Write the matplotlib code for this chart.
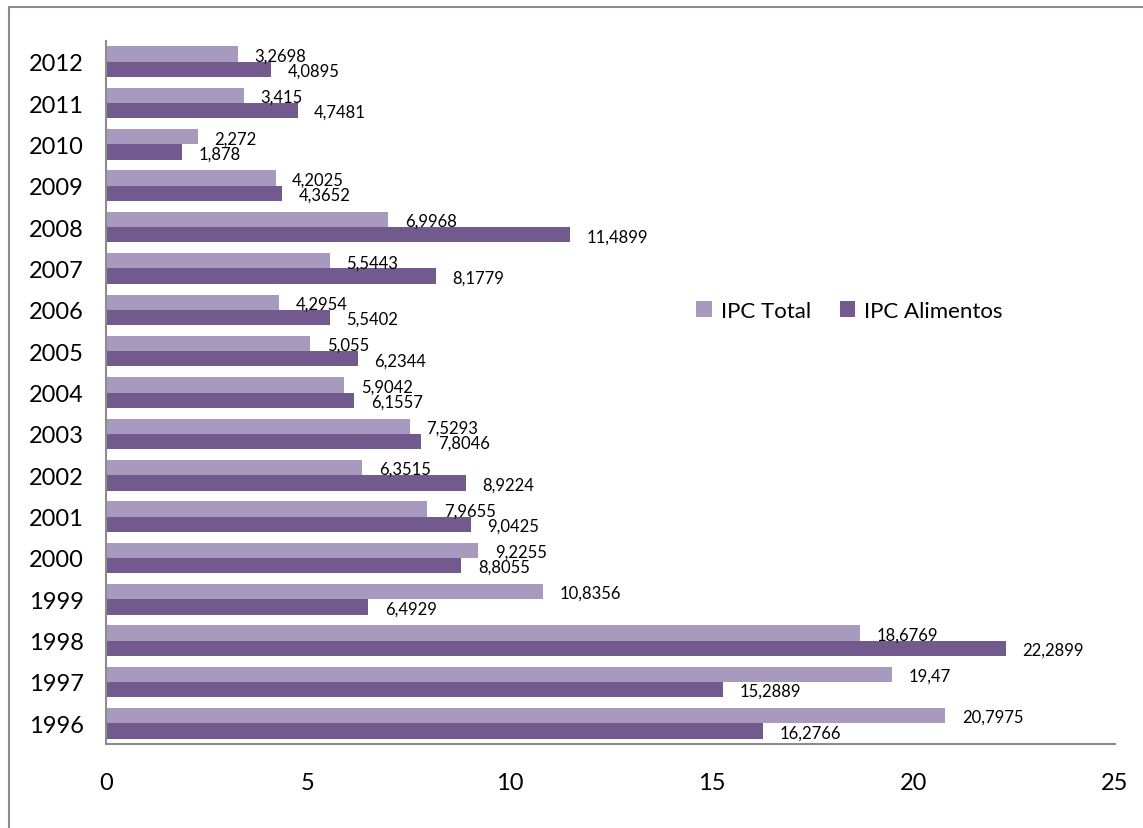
import numpy as np
from matplotlib import pyplot as plt
from matplotlib.patches import Rectangle

years = ["1996", "1997", "1998", "1999", "2000", "2001", "2002", "2003", "2004",
         "2005", "2006", "2007", "2008", "2009", "2010", "2011", "2012"]
ipc_total = [20.7975, 19.47, 18.6769, 10.8356, 9.2255, 7.9655, 6.3515, 7.5293, 5.9042,
             5.055, 4.2954, 5.5443, 6.9968, 4.2025, 2.272, 3.415, 3.2698]
ipc_alimentos = [16.2766, 15.2889, 22.2899, 6.4929, 8.8055, 9.0425, 8.9224, 7.8046, 6.1557,
                 6.2344, 5.5402, 8.1779, 11.4899, 4.3652, 1.878, 4.7481, 4.0895]
labels_total = ["20,7975", "19,47", "18,6769", "10,8356", "9,2255", "7,9655", "6,3515", "7,5293", "5,9042",
                "5,055", "4,2954", "5,5443", "6,9968", "4,2025", "2,272", "3,415", "3,2698"]
labels_alimentos = ["16,2766", "15,2889", "22,2899", "6,4929", "8,8055", "9,0425", "8,9224", "7,8046", "6,1557",
                    "6,2344", "5,5402", "8,1779", "11,4899", "4,3652", "1,878", "4,7481", "4,0895"]

c_total = "#a89abe"
c_alim = "#725a8e"

plt.rcParams['font.family'] = ['Lato', 'DejaVu Sans']

fig = plt.figure(figsize=(11.43, 8.29), dpi=100)
ax = fig.add_axes([0.0927, 0.1013, 0.8828, 0.848])

y = np.arange(len(years))
h = 0.37
ax.barh(y + h / 2, ipc_total, height=h, color=c_total, label="IPC Total")
ax.barh(y - h / 2, ipc_alimentos, height=h, color=c_alim, label="IPC Alimentos")

for yi, v, s in zip(y, ipc_total, labels_total):
    ax.annotate(s, (v, yi + h / 2), xytext=(12, -1), textcoords="offset points",
                va="center", ha="left", fontsize=12)
for yi, v, s in zip(y, ipc_alimentos, labels_alimentos):
    ax.annotate(s, (v, yi - h / 2), xytext=(12, -1), textcoords="offset points",
                va="center", ha="left", fontsize=12)

ax.set_xlim(0, 25)
ax.set_ylim(-0.5, len(years) - 0.5)
ax.set_xticks([0, 5, 10, 15, 20, 25])
ax.set_yticks(y)
ax.set_yticklabels(years)
ax.tick_params(axis="both", length=0, labelsize=17)
ax.tick_params(axis="x", pad=20)
ax.tick_params(axis="y", pad=16)
for side in ["top", "right"]:
    ax.spines[side].set_visible(False)
for side in ["left", "bottom"]:
    ax.spines[side].set_color("#8c8c8c")
    ax.spines[side].set_linewidth(1.5)

ax.legend(loc="center left", bbox_to_anchor=(0.565, 0.616), ncol=2, frameon=False,
          fontsize=16, handlelength=0.7, handleheight=0.7, handletextpad=0.4,
          columnspacing=1.3)

# outer chart frame
fig.patches.append(Rectangle((9 / 1143, -0.1), 1.2, 1 - 8 / 829 + 0.1,
                             transform=fig.transFigure, fill=False,
                             edgecolor="#8c8c8c", linewidth=1.5))

fig.savefig("out.png", dpi=100)
